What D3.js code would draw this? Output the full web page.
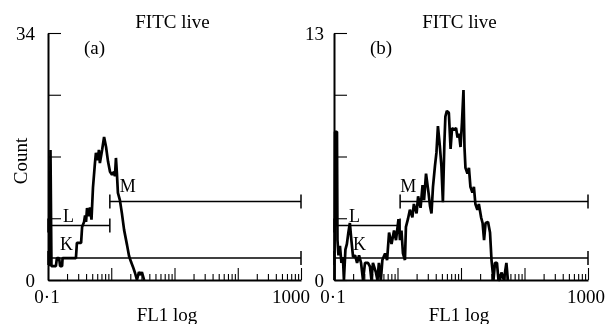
<!DOCTYPE html>
<html>
<head>
<meta charset="utf-8">
<script src="https://cdn.jsdelivr.net/npm/d3@7"></script>
<style>
  body { margin: 0; background: #fff; }
  svg { display: block; will-change: transform; }
  text { font-family: "Liberation Serif", "Times New Roman", serif; fill: #000; }
</style>
</head>
<body>
<svg id="chart" width="607" height="324"></svg>
<script>
// FL1 histograms: channel (256 per decade, starting at 0.1) and event count
const channelsA = [8,10,14,32,36,45,49,57,59,113,117,134,138,146,150,154,158,166,170,176,
  182,190,194,202,206,210,219,227,235,243,251,259,267,271,275,279,283,291,299,308,
  320,328,336,344,352,360,368,376,380,389];
const countsA = [1.9,17.9,1.9,1.9,3,3,1.9,1.9,3,3,5.1,5.1,7.3,8,8.9,8,9.9,8.8,10,8.3,
  12.7,16.1,17.5,16.5,17.9,16.1,17.9,19.7,18.3,16.3,14.9,14.5,14.9,14.3,16.8,14.6,12,11,9.2,6.9,
  4.8,3.3,2.5,1.8,1,0,1.1,0.7,1.1,0];

const channelsB = [2,4,12,14,18,24,30,36,40,46,52,58,64,70,77,85,93,101,109,117,
  125,137,145,151,157,169,175,181,189,195,206,214,222,232,242,250,260,266,272,278,
  286,290,298,306,316,322,333,339,349,357,363,371,381,387,393,399,407,413,419,427,
  433,439,445,449,455,463,470,476,484,492,498,504,510,516,522,526,530,538,544,550,
  558,564,570,578,584,593,599,605,611,621,629,635,643,649,657,663,669,675,685,695,701];
const countsB = [0,7.8,7.8,2.1,1.3,1.8,0.9,1.2,0,1.6,1.9,2.5,3.0,2.1,1.2,1.3,0.9,1.3,0.9,0,
  0.9,0.9,0.7,0,0.9,0.4,0,0.9,0,1.05,1.4,1.05,2.5,1.9,2.6,2.1,3.2,2.1,2.6,1.4,
  1.05,2.8,3.2,3.7,3.3,4.0,3.5,4.4,3.8,5.0,4.2,5.6,4.6,3.9,3.5,4.9,6.0,6.7,8.1,7.0,
  6.0,4.1,7.2,8.6,8.9,8.8,6.9,8.0,7.9,8.0,7.5,7.7,7.0,8.3,10.0,7.0,5.9,5.6,5.9,4.9,
  4.6,4.9,4.0,3.7,4.0,3.3,3.0,2.1,3.0,3.05,2.5,1.05,0,0.9,0.9,0,0,0.4,0,0.9,0];

// y-axis maxima
const yMaxA = 34;
const yMaxB = 13;

// marker regions K, L, M (FL1 ranges)
const gateNames = ["K", "L", "M"];
const gateLoA = [0.1, 0.1, 0.95];
const gateHiA = [1000, 0.95, 1000];
const gateLoB = [0.1, 0.1, 1.1];
const gateHiB = [1000, 1.1, 1000];

// texts
const panelTitles = ["FITC live", "FITC live"];
const panelLetters = ["(a)", "(b)"];
const xEndLabels = ["0·1", "1000"];
const xTitle = "FL1 log";
const yTitle = "Count";
const xDomain = [0.1, 1000];
const channelsPerDecade = 256;

const chanToFL1 = ch => xDomain[0] * Math.pow(10, ch / channelsPerDecade);

const panels = [
  { channels: channelsA, counts: countsA, yMax: yMaxA, lo: gateLoA, hi: gateHiA,
    left: 48, right: 301, yPad: 13, endDx: -10, titleX: 172.5, xTitleX: 167,
    letterX: 94.5, gateLabelDx: [12, 15, 10] },
  { channels: channelsB, counts: countsB, yMax: yMaxB, lo: gateLoB, hi: gateHiB,
    left: 334, right: 588, yPad: 10, endDx: -2, titleX: 459.5, xTitleX: 459,
    letterX: 381, gateLabelDx: [19, 15, 0] }
];
const plotTop = 33, plotBottom = 280;
// vertical placement of the marker bars and their letters
const gateRowY = [258, 225.5, 201.5];
const gateLabelY = [250, 222, 192];
const capHalf = 7;

const svg = d3.select("#chart");

panels.forEach((p, i) => {
  const g = svg.append("g");
  const x = d3.scaleLog().domain(xDomain).range([p.left, p.right]);
  const y = d3.scaleLinear().domain([0, p.yMax]).range([plotBottom, plotTop]);

  // x axis: inward log ticks, decades taller
  const xAxis = g.append("g")
    .attr("transform", `translate(0,${plotBottom})`)
    .call(d3.axisBottom(x).tickValues(x.ticks()).tickSizeInner(-6).tickSizeOuter(0).tickFormat(""));
  xAxis.select(".domain").attr("stroke", "#000").attr("stroke-width", 2);
  xAxis.selectAll(".tick line")
    .attr("stroke", "#000").attr("stroke-width", 1.1)
    .attr("y2", d => Math.abs(Math.log10(d) - Math.round(Math.log10(d))) < 1e-9 ? -12 : -6);

  // y axis: inward ticks at quarters, labels at the ends only
  const yTicks = [0, p.yMax / 4, p.yMax / 2, 3 * p.yMax / 4, p.yMax];
  const yAxis = g.append("g")
    .attr("transform", `translate(${p.left},0)`)
    .call(d3.axisLeft(y).tickValues(yTicks).tickSizeInner(-13).tickSizeOuter(0).tickPadding(p.yPad)
      .tickFormat(d => (d === 0 || d === p.yMax) ? String(d) : ""));
  yAxis.select(".domain").attr("stroke", "#000").attr("stroke-width", 2);
  yAxis.selectAll(".tick line").attr("stroke", "#000").attr("stroke-width", 1.1);
  yAxis.selectAll(".tick text")
    .attr("font-family", '"Liberation Serif", "Times New Roman", serif')
    .attr("font-size", 19).attr("fill", "#000");

  // x range labels
  g.append("text").attr("x", x(xDomain[0]) - 1).attr("y", 303)
    .attr("text-anchor", "middle").attr("font-size", 19).text(xEndLabels[0]);
  g.append("text").attr("x", x(xDomain[1]) + p.endDx).attr("y", 303)
    .attr("text-anchor", "middle").attr("font-size", 19).text(xEndLabels[1]);

  // titles
  g.append("text").attr("x", p.titleX).attr("y", 28)
    .attr("text-anchor", "middle").attr("font-size", 19).text(panelTitles[i]);
  g.append("text").attr("x", p.letterX).attr("y", 54)
    .attr("text-anchor", "middle").attr("font-size", 19).text(panelLetters[i]);
  g.append("text").attr("x", p.xTitleX).attr("y", 321)
    .attr("text-anchor", "middle").attr("font-size", 19).text(xTitle);

  // marker bars with end caps
  gateNames.forEach((name, k) => {
    const x0 = x(p.lo[k]), x1 = x(p.hi[k]), yy = gateRowY[k];
    g.append("line").attr("x1", x0).attr("x2", x1).attr("y1", yy).attr("y2", yy)
      .attr("stroke", "#000").attr("stroke-width", 1.5);
    [x0, x1].forEach(xc => g.append("line")
      .attr("x1", xc).attr("x2", xc).attr("y1", yy - capHalf).attr("y2", yy + capHalf)
      .attr("stroke", "#000").attr("stroke-width", 1.5));
    g.append("text").attr("x", x0 + p.gateLabelDx[k]).attr("y", gateLabelY[k])
      .attr("font-size", 18).text(name);
  });

  // histogram trace
  const pts = p.channels.map((ch, j) => [chanToFL1(ch), p.counts[j]]);
  g.append("path")
    .datum(pts)
    .attr("fill", "none").attr("stroke", "#000").attr("stroke-width", 2.7)
    .attr("stroke-linejoin", "bevel")
    .attr("d", d3.line().x(d => x(d[0])).y(d => y(d[1])));
});

// y-axis title on the left panel
svg.append("text")
  .attr("transform", "translate(27,161) rotate(-90)")
  .attr("text-anchor", "middle").attr("font-size", 19).text(yTitle);
</script>
</body>
</html>
